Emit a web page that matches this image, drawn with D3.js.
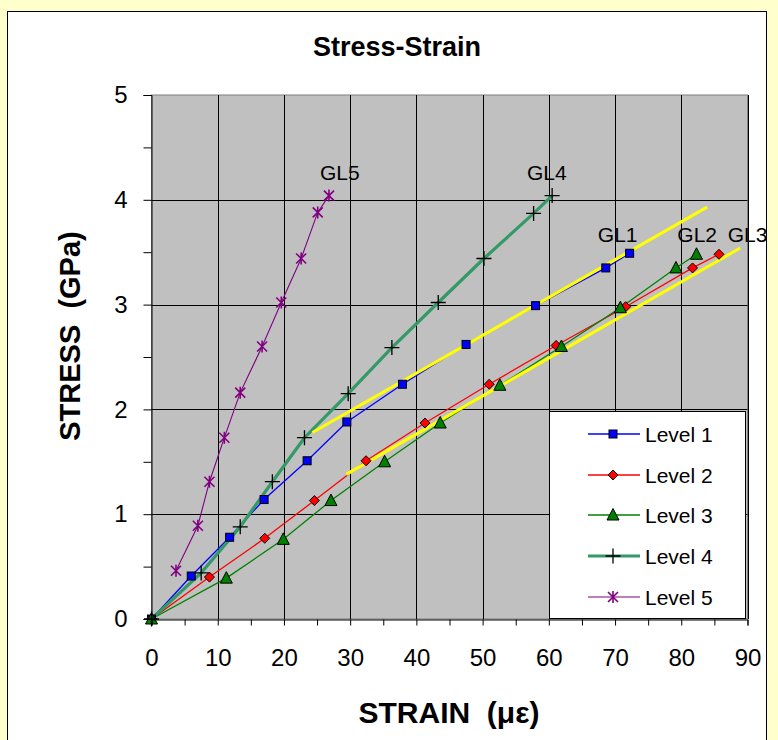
<!DOCTYPE html>
<html><head><meta charset="utf-8">
<script src="https://cdn.jsdelivr.net/npm/d3@7"></script>
<style>
html,body{margin:0;padding:0;background:#FFFFCC;}
svg{display:block;}
text{font-family:"Liberation Sans",Arial,sans-serif;white-space:pre;}
</style></head>
<body><svg id="c" width="778" height="740"></svg>
<script>
// ---- data ----
const seriesNames = ["Level 1","Level 2","Level 3","Level 4","Level 5"];
const level1 = [[0,0],[6.0,0.41],[11.8,0.78],[17.0,1.14],[23.5,1.51],[29.5,1.88],[37.9,2.24],[47.5,2.62],[58.0,2.99],[68.6,3.35],[72.2,3.49]];
const level2 = [[0,0],[8.75,0.40],[17.1,0.77],[24.6,1.13],[32.4,1.51],[41.3,1.87],[51.0,2.24],[61.1,2.61],[71.6,2.98],[81.7,3.35],[85.7,3.48]];
const level3 = [[0,0],[11.3,0.39],[19.9,0.76],[27.1,1.13],[35.2,1.50],[43.6,1.87],[52.6,2.23],[61.9,2.60],[70.8,2.97],[79.2,3.35],[82.3,3.48]];
const level4 = [[0,0],[7.5,0.44],[13.4,0.88],[18.25,1.31],[23.1,1.73],[29.7,2.15],[36.3,2.59],[43.3,3.02],[50.2,3.44],[57.7,3.87],[60.5,4.04]];
const level5 = [[3.7,0.46],[7.0,0.89],[8.75,1.31],[11.0,1.73],[13.4,2.16],[16.7,2.60],[19.6,3.02],[22.6,3.44],[25.1,3.88],[26.8,4.04]];
const trend1 = [[24.3,1.78],[83.9,3.93]];
const trend2 = [[29.4,1.38],[88.9,3.54]];
const gaugeLabels = ["GL5","GL4","GL1","GL2","GL3"];
const gaugeAnchors = [[25.45,4.19],[56.7,4.19],[67.4,3.60],[79.4,3.60],[87.0,3.60]];
const xTicks = [0,10,20,30,40,50,60,70,80,90];
const yTicks = [0,1,2,3,4,5];

// ---- layout ----
const svg = d3.select("#c");
const L = 151.5, R = 747.5, T = 95, B = 619;
const x = d3.scaleLinear().domain([0,90]).range([L,R]);
const y = d3.scaleLinear().domain([0,5]).range([B,T]);

svg.append("rect").attr("x",0).attr("y",0).attr("width",778).attr("height",740).attr("fill","#FFFFCC");
svg.append("rect").attr("x",7.5).attr("y",11.5).attr("width",759).attr("height",740).attr("fill","#fff").attr("stroke","#000");

svg.append("text").attr("x",397).attr("y",56).attr("text-anchor","middle")
  .attr("font-size",27).attr("font-weight","bold").text("Stress-Strain");

// plot bg
svg.append("rect").attr("x",L).attr("y",T).attr("width",R-L).attr("height",B-T).attr("fill","#C0C0C0").attr("stroke","#808080");

const g = svg.append("g");
// grid
g.selectAll(".vg").data(xTicks.slice(1)).enter().append("line")
  .attr("x1",d=>Math.round(x(d))+0.5).attr("x2",d=>Math.round(x(d))+0.5).attr("y1",T).attr("y2",B).attr("stroke","#000");
g.selectAll(".hg").data(yTicks.slice(1,5)).enter().append("line")
  .attr("y1",d=>Math.round(y(d))+0.5).attr("y2",d=>Math.round(y(d))+0.5).attr("x1",L).attr("x2",R).attr("stroke","#000");

// axes
const xAxis = d3.axisBottom(x).tickValues(d3.range(0,91,5)).tickSize(6).tickFormat("");
const ax = svg.append("g").attr("transform",`translate(0,${B+0.5})`).call(xAxis);
ax.select(".domain").attr("stroke","#000");
ax.selectAll("line").attr("stroke","#000");
const xl = d3.axisBottom(x).tickValues(xTicks).tickSize(0).tickPadding(30);
const axl = svg.append("g").attr("transform",`translate(0,${B})`).call(xl);
axl.select(".domain").remove();
axl.selectAll("text").attr("font-size",24).attr("font-family","Liberation Sans, Arial, sans-serif").attr("fill","#000");

const yAxis = d3.axisLeft(y).tickValues(d3.range(0,5.01,0.5)).tickSize(8).tickFormat("");
const ay = svg.append("g").attr("transform",`translate(${L},0)`).call(yAxis);
ay.select(".domain").attr("stroke","#000");
ay.selectAll("line").attr("stroke","#000");
const yl = d3.axisLeft(y).tickValues(yTicks).tickSize(0).tickPadding(24).tickFormat(d3.format("d"));
const ayl = svg.append("g").attr("transform",`translate(${L},0)`).call(yl);
ayl.select(".domain").remove();
ayl.selectAll("text").attr("font-size",24).attr("font-family","Liberation Sans, Arial, sans-serif").attr("fill","#000");

// axis titles
svg.append("text").attr("x",449).attr("y",723).attr("text-anchor","middle").attr("font-size",30).attr("font-weight","bold").text("STRAIN  (\u03BC\u03B5)");
svg.append("text").attr("transform","translate(80,336) rotate(-90)").attr("text-anchor","middle").attr("font-size",29).attr("font-weight","bold").text("STRESS  (GPa)");

// series styles
const styles = [
  {data:level1, color:"#0000FF", width:1.3, marker:"square"},
  {data:level2, color:"#FF0000", width:1.3, marker:"diamond"},
  {data:level3, color:"#008000", width:1.3, marker:"triangle"},
  {data:level4, color:"#339966", width:3.2, marker:"plus"},
  {data:level5, color:"#800080", width:1.1, marker:"star"}
];
const line = d3.line().x(d=>x(d[0])).y(d=>y(d[1]));

function drawMarker(sel, type, color){
  if(type==="square"){
    sel.append("rect").attr("x",-4).attr("y",-4).attr("width",8).attr("height",8).attr("fill",color).attr("stroke","#000").attr("stroke-width",1);
  } else if(type==="diamond"){
    sel.append("path").attr("d","M0,-5L5,0L0,5L-5,0Z").attr("fill",color).attr("stroke","#000").attr("stroke-width",1);
  } else if(type==="triangle"){
    sel.append("path").attr("d","M0,-6.5L6,5L-6,5Z").attr("fill",color).attr("stroke","#000").attr("stroke-width",1);
  } else if(type==="plus"){
    sel.append("path").attr("d","M-7.5,0H7.5M0,-7.5V7.5").attr("stroke","#000").attr("stroke-width",1.3).attr("fill","none");
  } else if(type==="star"){
    sel.append("path").attr("d","M-5,-5L5,5M-5,5L5,-5M0,-6V6").attr("stroke",color).attr("stroke-width",1.6).attr("fill","none");
  }
}

// lines first
styles.forEach(s=>{
  g.append("path").datum(s.data).attr("d",line).attr("fill","none").attr("stroke",s.color).attr("stroke-width",s.width);
});
// trend lines
[trend1,trend2].forEach(t=>{
  g.append("path").datum(t).attr("d",line).attr("fill","none").attr("stroke","#FFFF00").attr("stroke-width",3);
});
// markers
styles.forEach(s=>{
  g.selectAll(null).data(s.data).enter().append("g")
    .attr("transform",d=>`translate(${x(d[0])},${y(d[1])})`)
    .each(function(){ drawMarker(d3.select(this), s.marker, s.color); });
});

// gauge labels
g.selectAll(".gl").data(gaugeLabels).enter().append("text")
  .attr("x",(d,i)=>x(gaugeAnchors[i][0])).attr("y",(d,i)=>y(gaugeAnchors[i][1]))
  .attr("font-size",21).attr("fill","#000").text(d=>d);

// legend
const lg = svg.append("g");
lg.append("rect").attr("x",549.5).attr("y",411.5).attr("width",196).attr("height",207).attr("fill","#fff").attr("stroke","#000");
const legY = [434,475,515,556,597];
styles.forEach((s,i)=>{
  const e = lg.append("g").attr("transform",`translate(0,${legY[i]})`);
  e.append("line").attr("x1",588).attr("x2",640).attr("y1",0).attr("y2",0).attr("stroke",s.color).attr("stroke-width",s.width);
  drawMarker(e.append("g").attr("transform","translate(613,0)"), s.marker, s.color);
  e.append("text").attr("x",645).attr("y",7.5).attr("font-size",21).text(seriesNames[i]);
});
</script></body></html>
